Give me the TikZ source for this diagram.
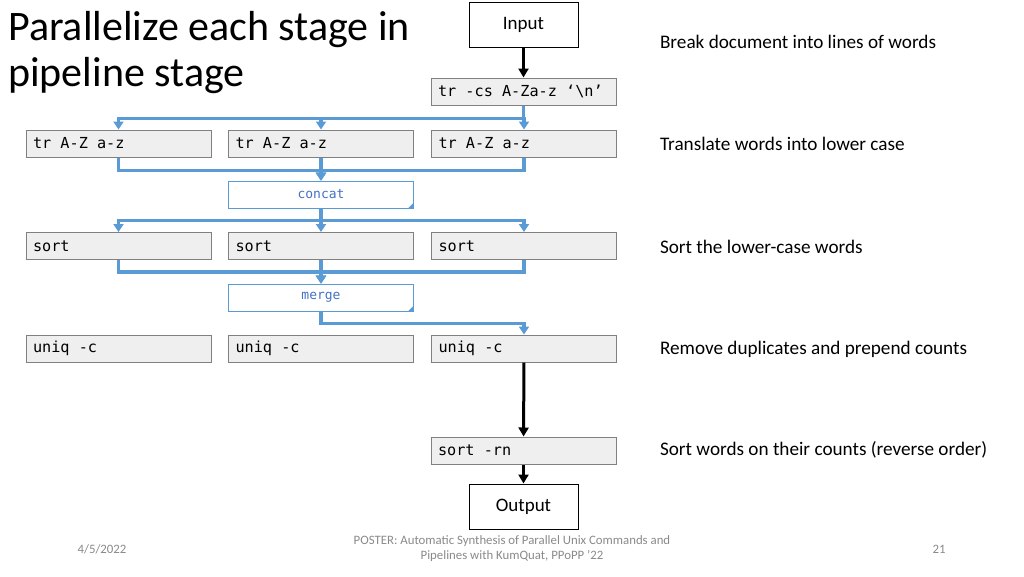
\documentclass[tikz,border=0pt]{standalone}
\usepackage{fontspec}
\setmainfont{Carlito}
\setmonofont{DejaVu Sans Mono}
\usetikzlibrary{arrows.meta}
\definecolor{pipeblue}{RGB}{91,155,213}
\definecolor{joinblue}{RGB}{68,114,196}
\definecolor{boxgray}{RGB}{239,239,239}
\definecolor{footgray}{RGB}{137,137,137}
% one monospace cell of blank
\newcommand{\tsp}{\hspace*{0.602em}}
\tikzset{
  cmdbox/.style={draw=gray, line width=1pt, fill=boxgray, minimum height=27pt,
    text width=171pt, inner xsep=7pt, align=left,
    font=\fontsize{15.2}{18}\selectfont\ttfamily},
  iobox/.style={draw, line width=1pt, minimum width=109pt, minimum height=45pt,
    font=\fontsize{19}{23}\selectfont},
  joinbox/.style={draw=pipeblue, line width=0.8pt, fill=white, minimum width=185pt,
    minimum height=27pt, text=joinblue, font=\fontsize{13}{16}\selectfont\ttfamily},
  bluearrow/.style={draw=pipeblue, line width=3.5pt, -{Triangle[width=10pt,length=8pt]}},
  blackarrow/.style={draw=black, line width=3pt, -{Triangle[width=10pt,length=9pt]}},
  note/.style={anchor=west, font=\fontsize{19.2}{23}\selectfont},
  foot/.style={text=footgray, font=\fontsize{12.8}{15}\selectfont, align=center}
}
\begin{document}
\begin{tikzpicture}[x=1pt, y=-1pt]
  \useasboundingbox (0,0) rectangle (1024,576);
  % Title
  \node[anchor=north west, align=left, inner sep=0pt, font=\fontsize{42}{46}\selectfont]
    (title) at (8,11) {Parallelize each stage in\\pipeline stage};
  % Input and first stage
  \node[iobox] (in) at (523.5,24.5) {Input};
  \node[cmdbox] (cs) at (523.5,91.5) {tr\tsp-cs\tsp A-Za-z\tsp‘\textbackslash n’};
  % Parallel rows
  \foreach \x/\n in {118.5/1, 321/2, 524/3} {
    \node[cmdbox] (t\n) at (\x,143.5) {tr\tsp A-Z\tsp a-z};
    \node[cmdbox] (s\n) at (\x,246) {sort};
    \node[cmdbox] (u\n) at (\x,348.5) {uniq\tsp-c};
  }
  % Join boxes with folded corner
  \node[joinbox] (concat) at (321,194.5) {concat};
  \node[joinbox] (merge) at (321,297.5) {merge};
  \foreach \j in {concat, merge}
    \fill[pipeblue] (\j.south east) -- ++(0,-6) -- ++(-6,6) -- cycle;
  % Last stages
  \node[cmdbox] (srn) at (523.5,450.5) {sort\tsp-rn};
  \node[iobox] (out) at (523.5,506.5) {Output};
  % Connectors
  \draw[blackarrow] (in) -- (cs);
  \foreach \n in {1,2,3} {
    \draw[bluearrow] (cs.south) -- ++(0,13) -| (t\n.north);
    \draw[bluearrow] (t\n.south) -- ++(0,13) -| (concat.north);
    \draw[bluearrow] (concat.south) -- ++(0,12) -| (s\n.north);
    \draw[bluearrow] (s\n.south) -- ++(0,12) -| (merge.north);
  }
  \draw[bluearrow] (merge.south) -- ++(0,12) -| (u3.north);
  \draw[blackarrow] (u3) -- (srn);
  \draw[blackarrow] (srn) -- (out);
  % Stage descriptions
  \node[note] (d1) at (656.5,42) {Break document into lines of words};
  \node[note] (d2) at (656.5,144) {Translate words into lower case};
  \node[note] (d3) at (656.5,247) {Sort the lower-case words};
  \node[note] (d4) at (656.5,349) {Remove duplicates and prepend counts};
  \node[note] (d5) at (656.5,450) {Sort words on their counts (reverse order)};
  % Footer
  \node[foot] (date) at (102,549) {4/5/2022};
  \node[foot] (ref) at (512,548.5) {POSTER: Automatic Synthesis of Parallel Unix Commands and\\Pipelines with KumQuat, PPoPP '22};
  \node[foot] (page) at (939,549) {21};
\end{tikzpicture}
\end{document}
